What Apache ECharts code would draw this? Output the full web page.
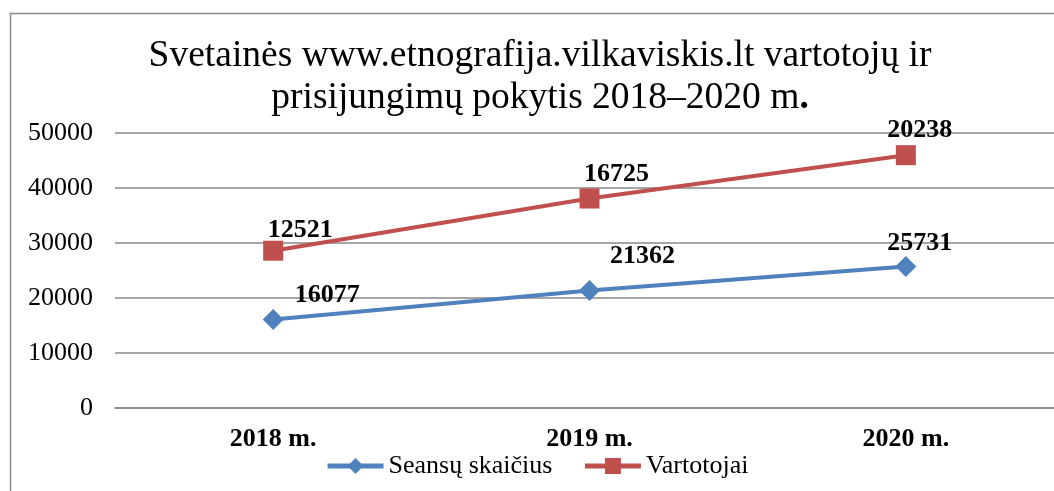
<!DOCTYPE html>
<html>
<head>
<meta charset="utf-8">
<script src="https://cdn.jsdelivr.net/npm/echarts@6/dist/echarts.min.js"></script>
<style>
  html, body { margin: 0; padding: 0; background: #fff; }
  #chart { width: 1054px; height: 491px; }
</style>
</head>
<body>
<div id="chart"></div>
<script>
const years = ['2018 m.', '2019 m.', '2020 m.']
const sessions = [16077, 21362, 25731]
const users = [12521, 16725, 20238]
const yTicks = { min: 0, max: 50000, interval: 10000 }

// label offsets per point (px), tuned to the picture
const sessionOffsets = [[54, 4], [53, -6], [14, 5]]
const userOffsets = [[27, 8], [27, 4], [14, 3]]

const serif = 'Liberation Serif'
const chart = echarts.init(document.getElementById('chart'))

const labelStyle = {
  show: true,
  position: 'top',
  fontFamily: serif,
  fontSize: 26,
  fontWeight: 'bold',
  color: '#000',
}

chart.setOption({
  animation: false,
  backgroundColor: '#fff',
  graphic: [
    {
      type: 'rect',
      left: 8,
      top: 11,
      shape: { width: 1100, height: 520 },
      style: { fill: 'none', stroke: '#8c8c8c', lineWidth: 1.5 },
      silent: true,
    },
  ],
  title: {
    text: 'Svetainės www.etnografija.vilkaviskis.lt vartotojų ir\nprisijungimų pokytis 2018–2020 m{b|.}',
    left: 535,
    textAlign: 'center',
    top: 30,
    textStyle: {
      fontFamily: serif,
      fontSize: 37.5,
      fontWeight: 'normal',
      lineHeight: 42,
      color: '#000',
      rich: {
        b: { fontFamily: serif, fontSize: 37.5, fontWeight: 'bold', color: '#000' },
      },
    },
  },
  legend: {
    top: 448,
    left: 320,
    itemWidth: 56,
    itemHeight: 20,
    itemGap: 30,
    lineStyle: { width: 5 },
    textStyle: { fontFamily: serif, fontSize: 26, color: '#000' },
    data: ['Seansų skaičius', 'Vartotojai'],
  },
  grid: { left: 115, width: 949, top: 133, bottom: 83, outerBoundsMode: 'none' },
  xAxis: {
    type: 'category',
    data: years,
    boundaryGap: true,
    axisLine: { show: true, lineStyle: { color: '#888', width: 1.5 } },
    axisTick: { show: false },
    axisLabel: {
      fontFamily: serif,
      fontSize: 26,
      fontWeight: 'bold',
      color: '#000',
      margin: 18,
    },
  },
  yAxis: {
    type: 'value',
    min: yTicks.min,
    max: yTicks.max,
    interval: yTicks.interval,
    axisLine: { show: false },
    axisTick: { show: false },
    splitLine: { lineStyle: { color: '#888', width: 1.5 } },
    axisLabel: {
      fontFamily: serif,
      fontSize: 26,
      color: '#000',
      margin: 22,
      formatter: (v) => String(v),
    },
  },
  series: [
    {
      name: 'Seansų skaičius',
      type: 'line',
      stack: 'total',
      data: sessions.map((v, i) => ({ value: v, label: { offset: sessionOffsets[i] } })),
      symbol: 'diamond',
      symbolSize: 21,
      lineStyle: { color: '#4F81BD', width: 4 },
      itemStyle: { color: '#4F81BD' },
      label: labelStyle,
    },
    {
      name: 'Vartotojai',
      type: 'line',
      stack: 'total',
      data: users.map((v, i) => ({ value: v, label: { offset: userOffsets[i] } })),
      symbol: 'rect',
      symbolSize: 20,
      lineStyle: { color: '#C0504D', width: 4 },
      itemStyle: { color: '#C0504D' },
      label: labelStyle,
    },
  ],
})
</script>
</body>
</html>
